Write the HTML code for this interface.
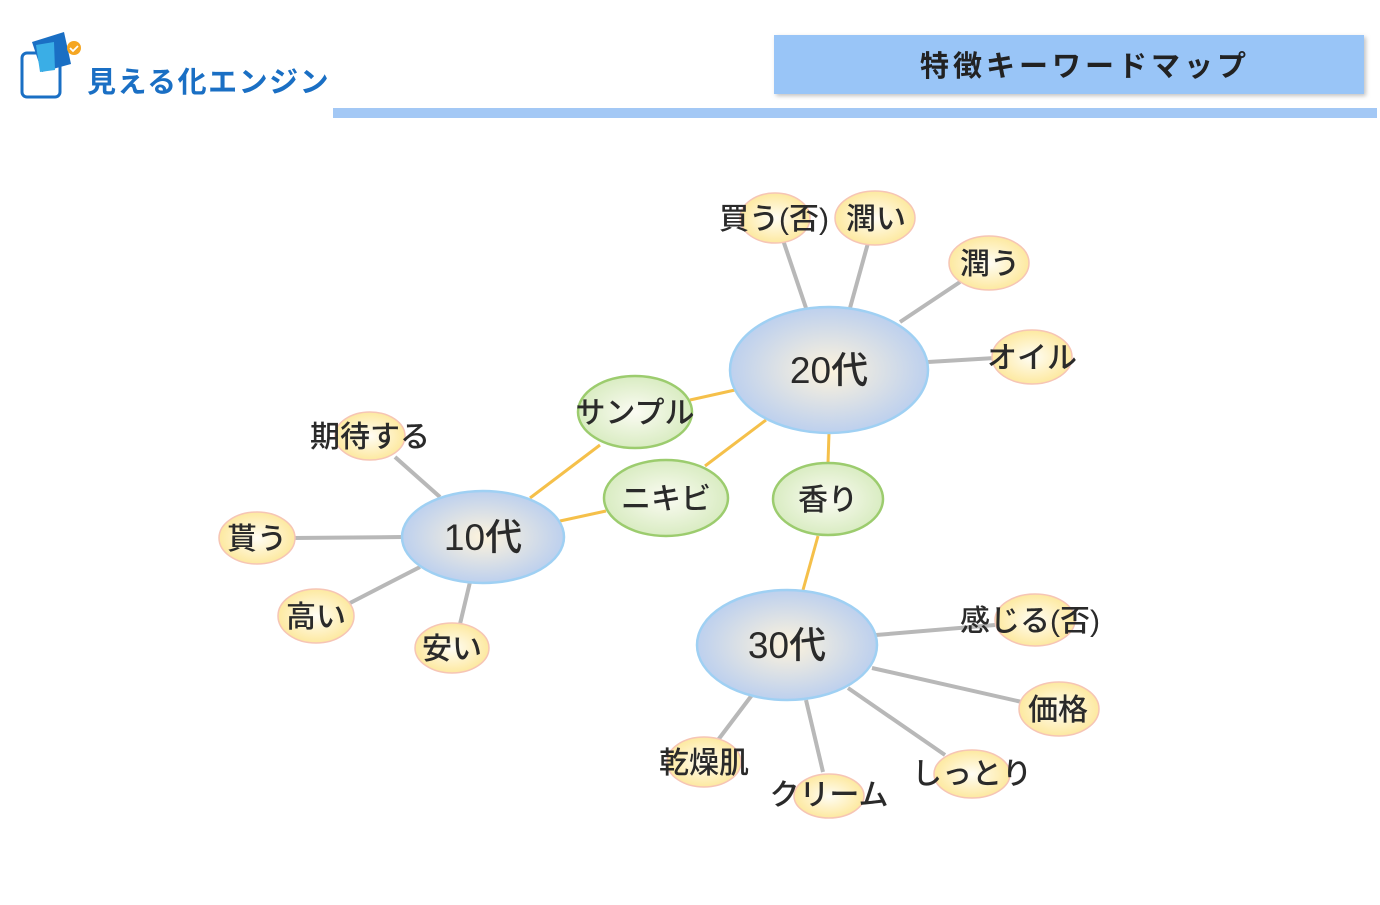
<!DOCTYPE html>
<html><head><meta charset="utf-8"><style>
body{margin:0;width:1380px;height:900px;background:#fff;overflow:hidden;font-family:"Liberation Sans","Noto Sans CJK JP",sans-serif;}
</style></head><body>
<svg width="1380" height="900" viewBox="0 0 1380 900" xmlns="http://www.w3.org/2000/svg" font-family="'Liberation Sans','Noto Sans CJK JP',sans-serif">
<defs>
<radialGradient id="gb" cx="50%" cy="50%" r="50%"><stop offset="0" stop-color="#fdf3dc"/><stop offset="1" stop-color="#bdd0ee"/></radialGradient>
<radialGradient id="gy" cx="50%" cy="50%" r="50%"><stop offset="0" stop-color="#fffdf5"/><stop offset="1" stop-color="#fde9a0"/></radialGradient>
<radialGradient id="gg" cx="50%" cy="50%" r="50%"><stop offset="0" stop-color="#fbfbf3"/><stop offset="1" stop-color="#d9ecc2"/></radialGradient>
<filter id="sh"><feDropShadow dx="2" dy="2" stdDeviation="2" flood-color="#999" flood-opacity="0.6"/></filter>
</defs>
<rect x="774" y="35" width="590" height="59" fill="#99c5f7" filter="url(#sh)"/>
<text x="1085" y="76" font-size="29" font-weight="bold" fill="#222" text-anchor="middle" letter-spacing="4">特徴キーワードマップ</text>
<rect x="333" y="108" width="1044" height="10" fill="#a3c8f5"/>
<rect x="22" y="53" width="38" height="44" rx="5" fill="#fff" stroke="#1a6fc4" stroke-width="3"/>
<polygon points="32,42 64,32 71,64 42,72" fill="#1a6fc4"/>
<polygon points="36,45 54,42 55,70 40,72" fill="#3aaee6"/>
<circle cx="74" cy="48" r="7" fill="#f5a623"/>
<path d="M70,48 l3,3 l5,-5" stroke="#fff" stroke-width="1.8" fill="none"/>
<text x="87" y="92" font-size="29" font-weight="bold" fill="#1a6fc4" letter-spacing="1.5">見える化エンジン</text>
<g stroke="#b8b8b8" stroke-width="4">
<line x1="806" y1="308" x2="783" y2="240"/>
<line x1="850" y1="308" x2="868" y2="243"/>
<line x1="900" y1="322" x2="960" y2="282"/>
<line x1="928" y1="362" x2="995" y2="358"/>
<line x1="440" y1="497" x2="395" y2="457"/>
<line x1="403" y1="537" x2="293" y2="538"/>
<line x1="420" y1="567" x2="350" y2="603"/>
<line x1="470" y1="582" x2="460" y2="624"/>
<line x1="876" y1="635" x2="995" y2="625"/>
<line x1="872" y1="668" x2="1022" y2="702"/>
<line x1="848" y1="688" x2="945" y2="755"/>
<line x1="806" y1="700" x2="823" y2="772"/>
<line x1="752" y1="695" x2="718" y2="740"/>
</g>
<g stroke="#f5c04a" stroke-width="3">
<line x1="530" y1="498" x2="600" y2="445"/>
<line x1="690" y1="400" x2="735" y2="390"/>
<line x1="560" y1="521" x2="606" y2="511"/>
<line x1="705" y1="466" x2="766" y2="420"/>
<line x1="829" y1="433" x2="828" y2="463"/>
<line x1="818" y1="536" x2="803" y2="590"/>
</g>
<g fill="url(#gy)" stroke="#f6c5b5" stroke-width="1.5">
<ellipse cx="775" cy="218" rx="35" ry="25"/>
<ellipse cx="875" cy="218" rx="40" ry="27"/>
<ellipse cx="989" cy="263" rx="40" ry="27"/>
<ellipse cx="1032" cy="357" rx="40" ry="27"/>
<ellipse cx="370" cy="436" rx="35" ry="24"/>
<ellipse cx="257" cy="538" rx="38" ry="26"/>
<ellipse cx="316" cy="616" rx="38" ry="27"/>
<ellipse cx="452" cy="648" rx="37" ry="25"/>
<ellipse cx="1035" cy="620" rx="40" ry="26"/>
<ellipse cx="1059" cy="709" rx="40" ry="27"/>
<ellipse cx="972" cy="774" rx="38" ry="24"/>
<ellipse cx="829" cy="796" rx="35" ry="22"/>
<ellipse cx="704" cy="762" rx="37" ry="25"/>
</g>
<g fill="url(#gg)" stroke="#9ccc6e" stroke-width="2.5">
<ellipse cx="635" cy="412" rx="57" ry="36"/>
<ellipse cx="666" cy="498" rx="62" ry="38"/>
<ellipse cx="828" cy="499" rx="55" ry="36"/>
</g>
<g fill="url(#gb)" stroke="#9fd0f3" stroke-width="2.5">
<ellipse cx="829" cy="370" rx="99" ry="63"/>
<ellipse cx="483" cy="537" rx="81" ry="46"/>
<ellipse cx="787" cy="645" rx="90" ry="55"/>
</g>
<g fill="#2a2a2a" text-anchor="middle" font-size="37" font-weight="500">
<text x="829" y="383">20代</text>
<text x="483" y="550">10代</text>
<text x="787" y="658">30代</text>
</g>
<g fill="#2a2a2a" text-anchor="middle" font-size="30" font-weight="500">
<text x="635" y="423">サンプル</text>
<text x="666" y="509">ニキビ</text>
<text x="828" y="510">香り</text>
<text x="774" y="229">買う(否)</text>
<text x="876" y="229">潤い</text>
<text x="990" y="274">潤う</text>
<text x="1032" y="368">オイル</text>
<text x="370" y="447">期待する</text>
<text x="257" y="549">貰う</text>
<text x="316" y="627">高い</text>
<text x="452" y="659">安い</text>
<text x="1030" y="631">感じる(否)</text>
<text x="1058" y="720">価格</text>
<text x="972" y="784">しっとり</text>
<text x="829" y="805">クリーム</text>
<text x="704" y="773">乾燥肌</text>
</g>
</svg>
</body></html>
